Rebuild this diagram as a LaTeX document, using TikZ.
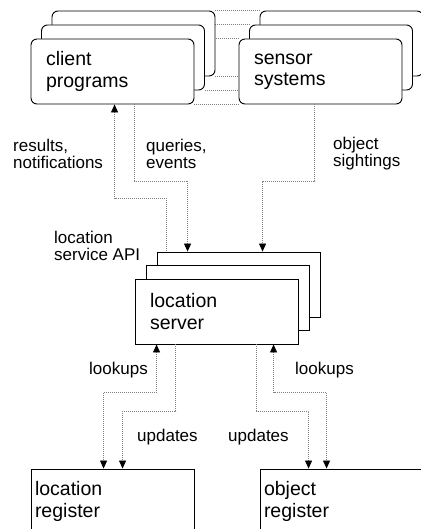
\documentclass[tikz,border=0pt]{standalone}
\usepackage{fontspec}
\setmainfont{Liberation Sans}
\usetikzlibrary{arrows.meta, calc, backgrounds}

\begin{document}
\begin{tikzpicture}[x=1pt, y=-1pt, >={Triangle[width=7pt,length=8pt,color=black]},
    box/.style={draw, line width=0.9pt, fill=white, minimum width=163pt, minimum height=65pt, inner ysep=0pt, inner xsep=15pt, text width=133pt, align=left, font=\fontsize{19.5}{21.3}\selectfont},
    stack/.style={box, rounded corners=6pt},
    register/.style={box, inner xsep=4pt, text width=155pt},
    flow/.style={draw=gray, line width=0.8pt, dash pattern=on 1pt off 1pt},
    lbl/.style={anchor=west, align=left, inner sep=0pt, font=\fontsize{17}{17}\selectfont}
]
\useasboundingbox (0,0) rectangle (420,529);

% Nodes
\node[stack] (cp3) at (133.5,43.5) {};
\node[stack] (cp2) at (123,57.5) {};
\node[stack] (cp) at (112.5,71.5) {client\\programs};

\node[stack] (ss3) at (341.5,43.5) {};
\node[stack] (ss2) at (331,57.5) {};
\node[stack] (ss) at (320.5,71.5) {sensor\\systems};

\node[box] (srv3) at (238.5,284.5) {};
\node[box] (srv2) at (227.5,298) {};
\node[box] (srv) at (216.5,311.5) {location\\server};

\node[register] (locreg) at (112.5,501.5) {location\\register};
\node[register] (objreg) at (341.5,501.5) {object\\register};

% Labels
\node[lbl] (res) at (13,154) {results,\\notifications};
\node[lbl] (qry) at (146,154) {queries,\\events};
\node[lbl] (sight) at (333,154) {object\\sightings};
\node[lbl] (api) at (54,246) {location\\service API};
\node[lbl] (lk1) at (89,370) {lookups};
\node[lbl] (lk2) at (295,370) {lookups};
\node[lbl] (up1) at (137,437) {updates};
\node[lbl] (up2) at (228,437) {updates};

% Links between the two stacks
\begin{scope}[on background layer]
\foreach \a/\b in {cp3/ss3, cp2/ss2, cp/ss} {
    \draw[flow] (\a.north east) -- (\b.north west);
    \draw[flow] (\a.south east) -- (\b.south west);
}
\end{scope}

% Connections
\draw[flow, <-] ($(cp.south west)+(84,0)$) -- ++(0,94) -| ($(srv3.north west)+(10,0)$);
\draw[flow, ->] ($(cp.south west)+(104,0)$) -- ++(0,77) -| ($(srv3.north west)+(31,0)$);
\draw[flow, ->] ($(ss.south west)+(76,0)$) -- ++(0,77) -| ($(srv3.north west)+(106,0)$);

\draw[flow, <->] ($(srv.south west)+(22,0)$) -- ++(0,48) -| ($(locreg.north west)+(73,0)$);
\draw[flow, ->] ($(srv.south west)+(41,0)$) -- ++(0,67) -| ($(locreg.north west)+(92,0)$);
\draw[flow, ->] ($(srv.south west)+(122,0)$) -- ++(0,67) -| ($(objreg.north west)+(49,0)$);
\draw[flow, <->] ($(srv.south west)+(139,0)$) -- ++(0,48) -| ($(objreg.north west)+(67,0)$);

\end{tikzpicture}
\end{document}
